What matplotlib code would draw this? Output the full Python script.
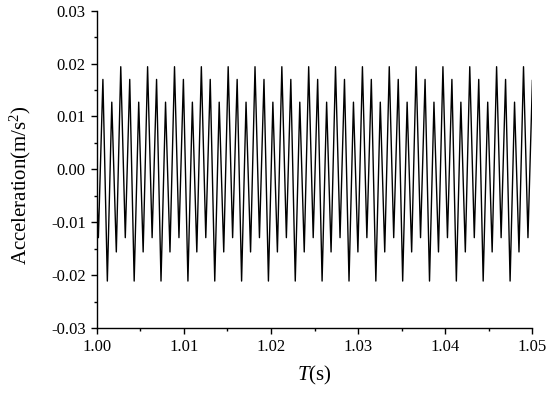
import matplotlib
matplotlib.use("Agg")
import matplotlib.pyplot as plt
from matplotlib.ticker import MultipleLocator

# extrema of the acceleration signal (time in s, value in m/s^2)
t_ext = [1.00000,
         1.00018, 1.00070, 1.00121, 1.00172, 1.00224, 1.00275,
         1.00327, 1.00378, 1.00429, 1.00481, 1.00532, 1.00583,
         1.00635, 1.00686, 1.00737, 1.00789, 1.00840, 1.00892,
         1.00943, 1.00994, 1.01046, 1.01097, 1.01148, 1.01200,
         1.01251, 1.01302, 1.01354, 1.01405, 1.01457, 1.01508,
         1.01559, 1.01611, 1.01662, 1.01713, 1.01765, 1.01816,
         1.01867, 1.01919, 1.01970, 1.02021, 1.02073, 1.02124,
         1.02176, 1.02227, 1.02278, 1.02330, 1.02381, 1.02432,
         1.02484, 1.02535, 1.02586, 1.02638, 1.02689, 1.02740,
         1.02792, 1.02843, 1.02895, 1.02946, 1.02997, 1.03049,
         1.03100, 1.03151, 1.03203, 1.03254, 1.03305, 1.03357,
         1.03408, 1.03460, 1.03511, 1.03562, 1.03614, 1.03665,
         1.03716, 1.03768, 1.03819, 1.03870, 1.03922, 1.03973,
         1.04025, 1.04076, 1.04127, 1.04179, 1.04230, 1.04281,
         1.04333, 1.04384, 1.04435, 1.04487, 1.04538, 1.04589,
         1.04641, 1.04692, 1.04744, 1.04795, 1.04846, 1.04898,
         1.04949, 1.05000]

a_ext = [-0.0042,
         -0.0129, 0.0170, -0.0211, 0.0127, -0.0156, 0.0194,
         -0.0129, 0.0170, -0.0211, 0.0127, -0.0156, 0.0194,
         -0.0129, 0.0170, -0.0211, 0.0127, -0.0156, 0.0194,
         -0.0129, 0.0170, -0.0211, 0.0127, -0.0156, 0.0194,
         -0.0129, 0.0170, -0.0211, 0.0127, -0.0156, 0.0194,
         -0.0129, 0.0170, -0.0211, 0.0127, -0.0156, 0.0194,
         -0.0129, 0.0170, -0.0211, 0.0127, -0.0156, 0.0194,
         -0.0129, 0.0170, -0.0211, 0.0127, -0.0156, 0.0194,
         -0.0129, 0.0170, -0.0211, 0.0127, -0.0156, 0.0194,
         -0.0129, 0.0170, -0.0211, 0.0127, -0.0156, 0.0194,
         -0.0129, 0.0170, -0.0211, 0.0127, -0.0156, 0.0194,
         -0.0129, 0.0170, -0.0211, 0.0127, -0.0156, 0.0194,
         -0.0129, 0.0170, -0.0211, 0.0127, -0.0156, 0.0194,
         -0.0129, 0.0170, -0.0211, 0.0127, -0.0156, 0.0194,
         -0.0129, 0.0170, -0.0211, 0.0127, -0.0156, 0.0194,
         -0.0129, 0.0170, -0.0211, 0.0127, -0.0156, 0.0194,
         -0.0129, 0.0168]

plt.rcParams['font.family'] = 'Liberation Serif'
plt.rcParams['mathtext.fontset'] = 'custom'
plt.rcParams['mathtext.rm'] = 'Liberation Serif'
plt.rcParams['mathtext.it'] = 'Liberation Serif:italic'

fig = plt.figure(figsize=(5.5, 3.93), dpi=100)
ax = fig.add_axes([0.176, 0.165, 0.792, 0.808])

ax.plot(t_ext, a_ext, color='black', lw=1.0)

ax.set_xlim(1.00, 1.05)
ax.set_ylim(-0.03, 0.03)
ax.xaxis.set_major_locator(MultipleLocator(0.01))
ax.xaxis.set_minor_locator(MultipleLocator(0.005))
ax.yaxis.set_major_locator(MultipleLocator(0.01))
ax.yaxis.set_minor_locator(MultipleLocator(0.005))
ax.xaxis.set_major_formatter(lambda v, p: f"{v:.2f}")
ax.yaxis.set_major_formatter(lambda v, p: f"{v:.2f}")

for s in ['top', 'right']:
    ax.spines[s].set_visible(False)
for s in ['left', 'bottom']:
    ax.spines[s].set_linewidth(1.0)

ax.tick_params(which='major', direction='out', length=4, width=1.0, labelsize=12, pad=4)
ax.tick_params(which='minor', direction='out', length=2.5, width=1.0)

ax.set_xlabel('$T$(s)', fontsize=15, labelpad=6)
ax.set_ylabel('Acceleration(m/s$^2$)', fontsize=15)
ax.yaxis.set_label_coords(-0.146, 0.451)

fig.savefig('out.png', dpi=100)
